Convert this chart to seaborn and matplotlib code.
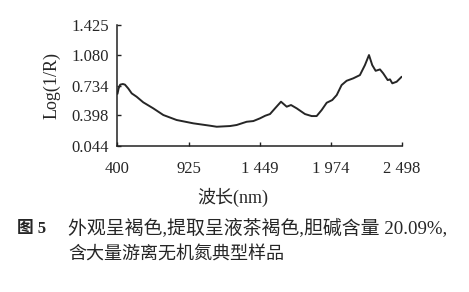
import matplotlib
matplotlib.use("Agg")
import matplotlib.pyplot as plt
import seaborn as sns
import pandas as pd

wavelength = [400, 408, 420, 440, 455, 480, 505, 541, 590, 664, 738, 836, 959, 1082,
              1132, 1230, 1279, 1353, 1402, 1451, 1490, 1525, 1562, 1606, 1648, 1680,
              1722, 1783, 1832, 1869, 1906, 1943, 1984, 2017, 2053, 2090, 2139, 2188,
              2225, 2255, 2279, 2304, 2336, 2360, 2393, 2410, 2427, 2459, 2496]
log_inv_r = [0.64, 0.70, 0.745, 0.752, 0.745, 0.70, 0.645, 0.607, 0.543, 0.474, 0.398,
             0.341, 0.303, 0.276, 0.264, 0.272, 0.284, 0.321, 0.329, 0.36, 0.39, 0.409,
             0.474, 0.55, 0.493, 0.512, 0.474, 0.409, 0.386, 0.386, 0.455, 0.538, 0.569,
             0.626, 0.740, 0.789, 0.817, 0.854, 0.968, 1.083, 0.968, 0.903, 0.919, 0.874,
             0.797, 0.805, 0.760, 0.778, 0.835]

x_ticks = [400, 925, 1449, 1974, 2498]
x_tick_labels = ["400", "925", "1 449", "1 974", "2 498"]
y_ticks = [0.044, 0.398, 0.734, 1.080, 1.425]
y_tick_labels = ["0.044", "0.398", "0.734", "1.080", "1.425"]

x_label = "波长(nm)"
y_label = "Log(1/R)"
caption_tag = "图 5"
caption_line1 = "外观呈褐色,提取呈液茶褐色,胆碱含量 20.09%,"
caption_line2 = "含大量游离无机氮典型样品"

sns.set_style("ticks")
mixed = ["Liberation Serif", "Noto Sans CJK SC"]
plt.rcParams["font.family"] = mixed

df = pd.DataFrame({"wl": wavelength, "v": log_inv_r})

fig = plt.figure(figsize=(4.69, 2.92), dpi=100)
ax = fig.add_axes([0.2505, 0.5, 0.857 - 0.2505, 0.914 - 0.5])
sns.lineplot(data=df, x="wl", y="v", ax=ax, color="#262626", linewidth=1.4, sort=False)

ax.set_xlim(400, 2498)
ax.set_ylim(0.044, 1.425)
ax.set_xticks(x_ticks)
ax.set_xticklabels(x_tick_labels, fontsize=12)
ax.set_yticks(y_ticks)
ax.set_yticklabels(y_tick_labels, fontsize=12)
ax.tick_params(axis="both", direction="in", length=3, width=1, color="#222222")
ax.tick_params(axis="y", pad=6)
ax.tick_params(axis="x", pad=11)
for s in ["top", "right"]:
    ax.spines[s].set_visible(False)
for s in ["left", "bottom"]:
    ax.spines[s].set_linewidth(1.1)
    ax.spines[s].set_color("#222222")

ax.set_xlabel("")
ax.set_ylabel(y_label, fontsize=13, labelpad=8)

fig.text(233 / 469, 1 - 197 / 292, x_label, ha="center", va="center",
         fontsize=13, family=mixed)
fig.text(17 / 469, 1 - 229 / 292, caption_tag, ha="left", va="center",
         fontsize=12, family=mixed, weight="bold")
fig.text(68 / 469, 1 - 229 / 292, caption_line1, ha="left", va="center",
         fontsize=13.6, family=mixed)
fig.text(68 / 469, 1 - 255 / 292, caption_line2, ha="left", va="center",
         fontsize=13, family=mixed)

fig.savefig("out.png", dpi=100)
